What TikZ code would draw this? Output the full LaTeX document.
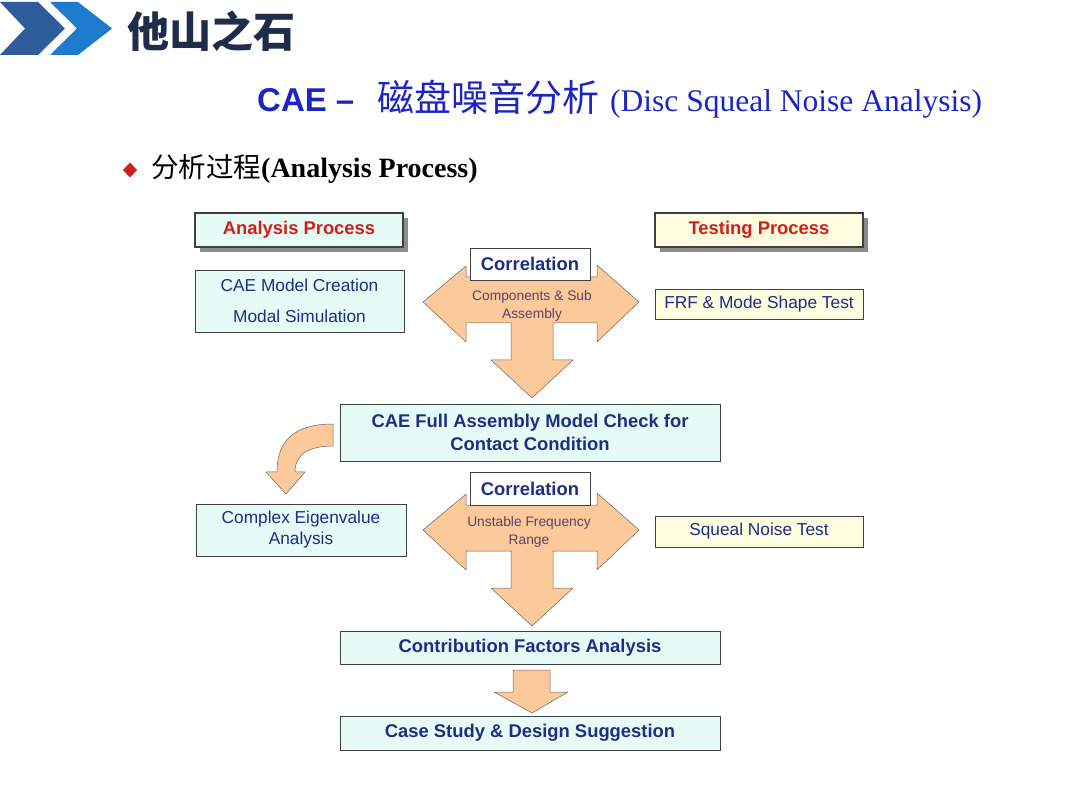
\documentclass[tikz,border=0pt]{standalone}
\usepackage{fontspec}
\setmainfont{Liberation Serif}
\setsansfont{Liberation Sans}
\newfontfamily\cjk{Noto Sans CJK SC}
\usepackage{tikz}
\usetikzlibrary{shadows}
\definecolor{ChevDark}{RGB}{46,92,154}
\definecolor{ChevLight}{RGB}{30,122,204}
\definecolor{TitleNavy}{RGB}{31,45,74}
\definecolor{SubBlue}{RGB}{28,36,196}
\definecolor{BoxCyan}{RGB}{230,251,246}
\definecolor{BoxYellow}{RGB}{253,253,224}
\definecolor{BoxLine}{RGB}{64,64,64}
\definecolor{TextNavy}{RGB}{30,46,130}
\definecolor{HeadRed}{RGB}{208,30,30}
\definecolor{ArrowPeach}{RGB}{251,201,154}
\definecolor{NotePurple}{RGB}{96,64,104}
\definecolor{ShadowGray}{RGB}{140,140,140}

\begin{document}
\begin{tikzpicture}[x=1pt,y=-1pt,
  procbox/.style={draw=BoxLine, fill=BoxCyan, line width=0.8pt, align=center, inner sep=0pt,
    font=\sffamily\fontsize{17.3}{20}\selectfont, text=TextNavy},
  testbox/.style={procbox, fill=BoxYellow},
  boldbox/.style={procbox, font=\sffamily\bfseries\fontsize{18.4}{23}\selectfont},
  headbox/.style={procbox, line width=1.2pt, font=\sffamily\bfseries\fontsize{18.4}{20}\selectfont, text=HeadRed,
    drop shadow={shadow xshift=5pt, shadow yshift=-5pt, fill=ShadowGray, opacity=1}},
  corrbox/.style={draw=BoxLine, fill=white, line width=0.8pt, inner sep=0pt,
    font=\sffamily\bfseries\fontsize{18.4}{20}\selectfont, text=TextNavy},
  blockarrow/.style={fill=ArrowPeach, draw=BoxLine!80, line width=0.5pt, line join=round},
  note/.style={font=\sffamily\fontsize{13.8}{18}\selectfont, text=NotePurple, align=center}]
  \useasboundingbox (0,0) rectangle (1080,810);

  % Header
  \fill[ChevDark] (0,2) -- (38,2) -- (65,28.5) -- (38,55) -- (0,55) -- (25,28.5) -- cycle;
  \fill[ChevLight] (50,2) -- (78,2) -- (112,28.5) -- (78,55) -- (50,55) -- (77,28.5) -- cycle;
  \node[anchor=west, inner sep=0pt, font=\cjk\bfseries\fontsize{42}{42}\selectfont, text=TitleNavy] (title) at (127,31) {他山之石};

  \node[anchor=base west, inner sep=0pt, text=SubBlue] (subtitle) at (257,112)
    {{\sffamily\bfseries\fontsize{33}{36}\selectfont CAE\hspace{9pt}–}\hspace{23pt}{\cjk\fontsize{37}{40}\selectfont 磁盘噪音分析}\hspace{11pt}{\fontsize{31.5}{36}\selectfont (Disc Squeal Noise Analysis)}};

  \fill[HeadRed] (130,162.5) -- (137,170) -- (130,177.5) -- (123,170) -- cycle;
  \node[anchor=base west, inner sep=0pt] (bullet) at (151,178)
    {{\cjk\fontsize{27.5}{30}\selectfont 分析过程}{\bfseries\fontsize{28}{30}\selectfont (Analysis Process)}};

  % Tee arrows (Correlation)
  \foreach \dy in {0,228} {
    \begin{scope}[shift={(0,\dy)}]
      \filldraw[blockarrow] (423,302) -- (466,266) -- (466,277) -- (597,277) -- (597,265) -- (639,302)
        -- (597,342) -- (597,323) -- (553,323) -- (553,360) -- (573,360) -- (532,398)
        -- (491,360) -- (511,360) -- (511,323) -- (466,323) -- (466,342) -- cycle;
    \end{scope}
  }

  % Curved arrow
  \filldraw[blockarrow] (333,424) -- (333,446) .. controls (308,446) and (295,455) .. (295,472)
    -- (305,472) -- (286,494) -- (266,472) -- (277,472) .. controls (277,440) and (295,424) .. (333,424) -- cycle;

  % Down arrow
  \filldraw[blockarrow] (513,670) -- (550,670) -- (550,692) -- (568,692) -- (532,713)
    -- (494,692) -- (513,692) -- cycle;

  % Boxes
  \node[headbox, minimum width=208, minimum height=34] (anahead) at (299,230) {Analysis Process};
  \node[headbox, fill=BoxYellow, minimum width=208, minimum height=34] (testhead) at (759,230) {Testing Process};
  \node[procbox, minimum width=209, minimum height=62] (caemodel) at (299.5,301)
    {CAE Model Creation\\[11pt]Modal Simulation};
  \node[testbox, minimum width=208, minimum height=30] (frf) at (759,304) {FRF \& Mode Shape Test};
  \node[corrbox, minimum width=120, minimum height=32] (corrtop) at (530,264) {Correlation};
  \node[note] (compnote) at (532,306) {Components \& Sub\\Assembly};

  \node[boldbox, minimum width=380, minimum height=57] (fullasm) at (530,432.5)
    {CAE Full Assembly Model Check for\\Contact Condition};
  \node[procbox, minimum width=210, minimum height=52] (complex) at (301,530)
    {Complex Eigenvalue\\[1pt]Analysis};
  \node[corrbox, minimum width=120, minimum height=33] (corrlow) at (530,488.5) {Correlation};
  \node[note] (freqnote) at (529,532) {Unstable Frequency\\Range};
  \node[testbox, minimum width=208, minimum height=31] (squeal) at (759,531.5) {Squeal Noise Test};

  \node[boldbox, minimum width=380, minimum height=33] (contrib) at (530,647.5) {Contribution Factors Analysis};
  \node[boldbox, minimum width=380, minimum height=34] (casestudy) at (530,733) {Case Study \& Design Suggestion};
\end{tikzpicture}
\end{document}
